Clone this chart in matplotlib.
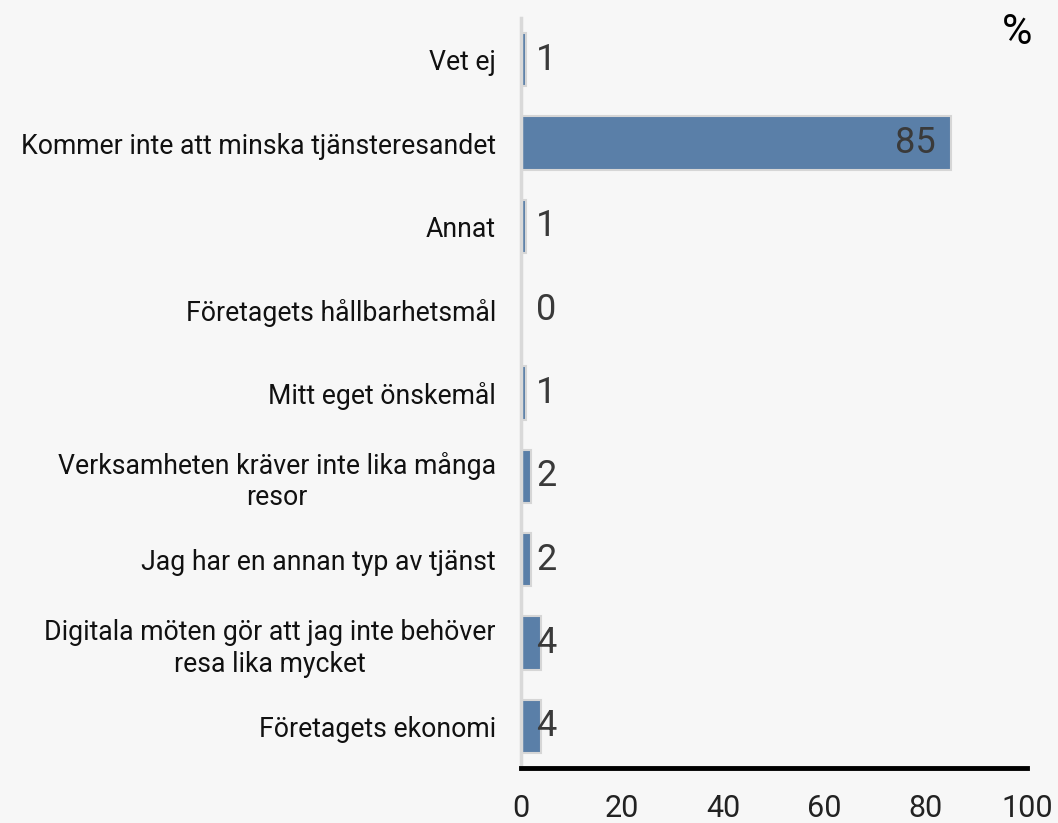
import matplotlib.pyplot as plt

plt.rcParams['font.family'] = ['Roboto', 'DejaVu Sans']

categories = ["Vet ej",
              "Kommer inte att minska tjänsteresandet",
              "Annat",
              "Företagets hållbarhetsmål",
              "Mitt eget önskemål",
              "Verksamheten kräver inte lika många\nresor",
              "Jag har en annan typ av tjänst",
              "Digitala möten gör att jag inte behöver\nresa lika mycket",
              "Företagets ekonomi"]
values = [1, 85, 1, 0, 1, 2, 2, 4, 4]
xticks = [0, 20, 40, 60, 80, 100]

bg = "#f7f7f7"
fig = plt.figure(figsize=(10.58, 8.23), dpi=100, facecolor=bg)
ax = fig.add_axes([521/1058, 55/823, 506/1058, 750/823], facecolor=bg)

y = range(len(categories))
ax.barh(y, values, height=0.64, color="#5a7fa8", edgecolor="#d6d6d6", linewidth=1.5)

for i, v in enumerate(values):
    if v > 20:
        ax.text(v - 3, i, str(v), ha='right', va='center', fontsize=26, color="#3a3a3a")
    else:
        ax.text(5, i, str(v), ha='center', va='center', fontsize=26, color="#3a3a3a")

ax.set_xlim(0, 100)
ax.set_ylim(8.5, -0.5)
ax.set_yticks(list(y))
ax.set_yticklabels(categories, fontsize=19.2, color="#111111",
                   multialignment='center', linespacing=1.22)
ax.set_xticks(xticks)
ax.set_xticklabels([str(t) for t in xticks], fontsize=22, color="#222222")
ax.tick_params(axis='y', length=0, pad=18)
ax.tick_params(axis='x', length=0, pad=19)

for s in ['top', 'right']:
    ax.spines[s].set_visible(False)
ax.spines['left'].set_color("#d9d9d9")
ax.spines['left'].set_linewidth(2.5)
ax.spines['bottom'].set_color("black")
ax.spines['bottom'].set_linewidth(3.5)

fig.text(1017/1058, 1 - 32/823, "%", ha='center', va='center', fontsize=30, color="black")

fig.savefig("out.png", dpi=100, facecolor=bg)
